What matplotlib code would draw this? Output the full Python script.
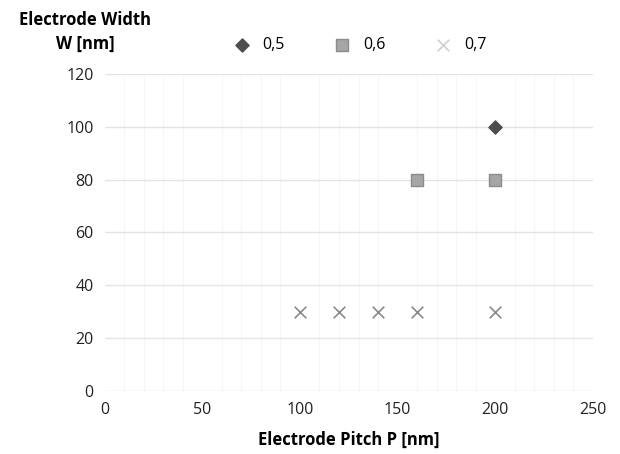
import matplotlib
matplotlib.use("Agg")
from matplotlib import pyplot as plt

plt.rcParams['font.family'] = ['Open Sans', 'DejaVu Sans']

# ratio series: (pitch, width)
pitch_05 = [200]
width_05 = [100]
pitch_06 = [160, 200]
width_06 = [80, 80]
pitch_07 = [100, 120, 140, 160, 200]
width_07 = [30, 30, 30, 30, 30]
labels = ['0,5', '0,6', '0,7']

fig = plt.figure(figsize=(6.2, 4.54), dpi=100)
ax = fig.add_axes([0.169, 0.139, 0.787, 0.698])

ax.scatter(pitch_05, width_05, marker='D', s=45, color='#4d4d4d', zorder=3, label=labels[0])
ax.scatter(pitch_06, width_06, marker='s', s=80, color='#a6a6a6', edgecolor='#8c8c8c', zorder=3, label=labels[1])
ax.scatter(pitch_07, width_07, marker='x', s=70, color='#8a8a8a', linewidths=1.2, zorder=3, label=labels[2])

ax.set_xlim(0, 250)
ax.set_ylim(0, 120)
ax.set_xticks(range(0, 251, 50))
ax.set_yticks(range(0, 121, 20))
ax.set_xticks(range(0, 251, 10), minor=True)
ax.grid(True, which='major', axis='y', color='#dfe5ec', linewidth=1)
ax.grid(True, which='minor', axis='x', color='#f5f6f8', linewidth=0.8)
ax.set_axisbelow(True)
for s in ax.spines.values():
    s.set_visible(False)
ax.tick_params(which='both', length=0, labelsize=11.5, colors='#222222', pad=8)

ax.set_xlabel('Electrode Pitch P [nm]', fontsize=12, fontweight='bold', labelpad=9)
fig.text(0.137, 0.93, 'Electrode Width\nW [nm]', fontsize=12, fontweight='bold',
         ha='center', va='center', linespacing=1.4)

leg = ax.legend(loc='lower left', bbox_to_anchor=(0.235, 1.045), ncol=3, frameon=False,
                fontsize=11.5, handletextpad=0.3, columnspacing=2.6, borderaxespad=0)
leg.legend_handles[2].set_color('#cfcfcf')

plt.savefig('out.png', dpi=100)
